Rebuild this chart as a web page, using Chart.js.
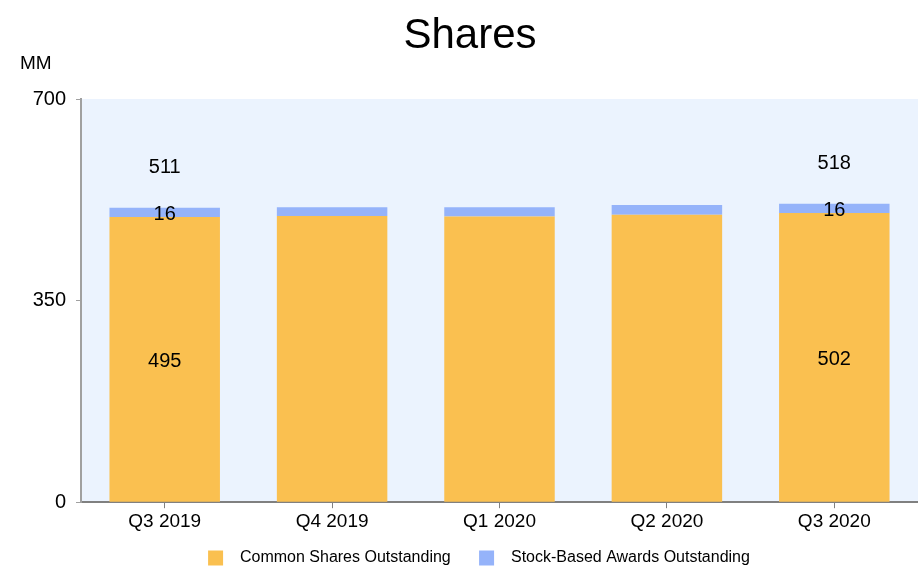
<!DOCTYPE html>
<html>
<head>
<meta charset="utf-8">
<script src="https://cdn.jsdelivr.net/npm/chart.js@4/dist/chart.umd.min.js"></script>
<style>
html,body{margin:0;padding:0;background:#fff;}
#wrap{position:relative;width:918px;height:582px;}
</style>
</head>
<body>
<div id="wrap"><canvas id="c" width="918" height="582"></canvas></div>
<script>
const categories = ["Q3 2019", "Q4 2019", "Q1 2020", "Q2 2020", "Q3 2020"];
const commonShares = [495, 497, 496, 499, 502];
const stockAwards = [16, 15, 16, 17, 16];
const labelledIndexes = [0, 4];
const yTicks = [0, 350, 700];
const seriesNames = ["Common Shares Outstanding", "Stock-Based Awards Outstanding"];

const FONT = "'Liberation Sans', Arial, sans-serif";

const bgPlugin = {
  id: 'bg',
  afterLayout(chart) {
    if (chart.legend) { chart.legend.left += 20; }
  },
  beforeDraw(chart) {
    const {ctx, chartArea: a} = chart;
    ctx.save();
    ctx.fillStyle = '#EBF3FE';
    ctx.fillRect(a.left, a.top, a.right - a.left, a.bottom - a.top);
    ctx.restore();
  }
};

const textPlugin = {
  id: 'texts',
  afterDraw(chart) {
    const {ctx} = chart;
    ctx.save();
    ctx.fillStyle = '#000';
    ctx.textBaseline = 'middle';
    ctx.textAlign = 'center';
    ctx.font = '42px ' + FONT;
    ctx.fillText('Shares', 470, 36);
    ctx.font = '19px ' + FONT;
    ctx.textAlign = 'left';
    ctx.fillText('MM', 20, 64);
    // data labels
    const y = chart.scales.y;
    const m0 = chart.getDatasetMeta(0);
    ctx.textAlign = 'center';
    ctx.font = '20px ' + FONT;
    const dy = 2;
    labelledIndexes.forEach(i => {
      const x = m0.data[i].x;
      const c = commonShares[i], s = stockAwards[i];
      ctx.fillText(String(c), x, y.getPixelForValue(c / 2) + dy);
      ctx.fillText(String(s), x, y.getPixelForValue(c + s / 2) + dy);
      ctx.fillText(String(c + s), x, y.getPixelForValue(c + s) - 42 + dy);
    });
    ctx.restore();
  }
};

new Chart(document.getElementById('c'), {
  type: 'bar',
  data: {
    labels: categories,
    datasets: [
      {label: '  ' + seriesNames[0] + '   ', data: commonShares, backgroundColor: '#FAC050', borderWidth: 0},
      {label: '  ' + seriesNames[1], data: stockAwards, backgroundColor: '#95B3FA', borderWidth: 0}
    ]
  },
  options: {
    responsive: false,
    animation: false,
    devicePixelRatio: 1,
    layout: {padding: {top: 99, left: 20, right: 0, bottom: 6}},
    datasets: {bar: {categoryPercentage: 1, barPercentage: 0.66}},
    plugins: {
      title: {display: false},
      tooltip: {enabled: false},
      legend: {
        position: 'bottom',
        labels: {
          boxWidth: 15, boxHeight: 15, padding: 15,
          color: '#000',
          font: {family: FONT, size: 16}
        }
      }
    },
    scales: {
      x: {
        stacked: true,
        offset: true,
        grid: {display: true, drawOnChartArea: false, offset: false, tickLength: 6, color: '#808080'},
        border: {display: true, color: '#808080', width: 2},
        ticks: {color: '#000', font: {family: FONT, size: 19}, padding: 2, maxRotation: 0}
      },
      y: {
        stacked: true,
        min: 0, max: 700,
        afterBuildTicks(s) { s.ticks = yTicks.map(v => ({value: v})); },
        afterFit(s) { s.width = 61; },
        grid: {display: true, drawOnChartArea: false, tickLength: 5, color: '#A0A0A0'},
        border: {display: true, color: '#A0A0A0', width: 2},
        ticks: {color: '#000', font: {family: FONT, size: 20}, padding: 10}
      }
    }
  },
  plugins: [bgPlugin, textPlugin]
});
</script>
</body>
</html>
